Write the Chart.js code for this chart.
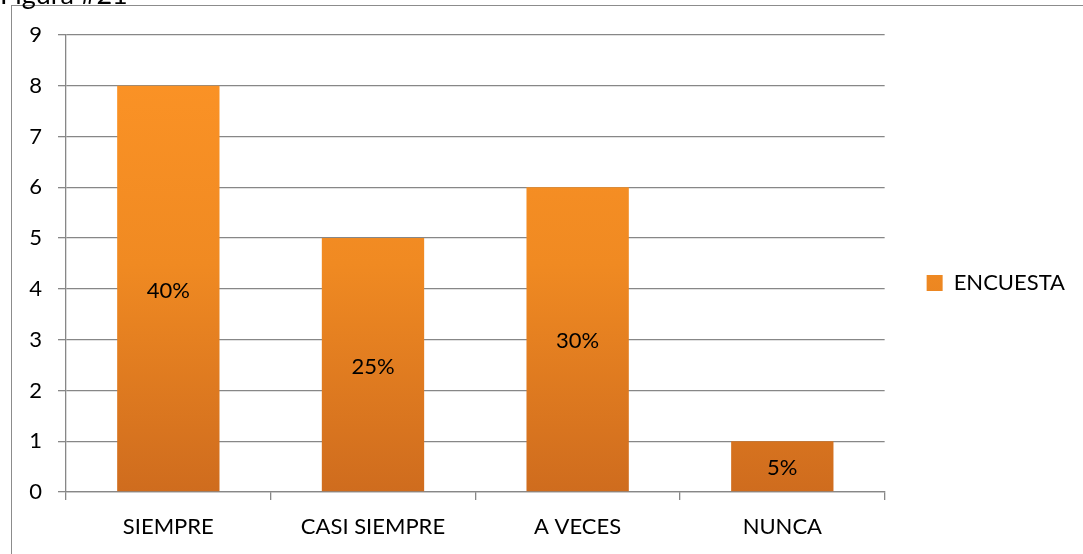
<!DOCTYPE html>
<html>
<head>
<meta charset="utf-8">
<script src="https://cdn.jsdelivr.net/npm/chart.js@4/dist/chart.umd.min.js"></script>
<style>
  html, body { margin: 0; padding: 0; background: #fff; overflow: hidden; }
  #wrap { position: relative; width: 1083px; height: 554px; }
  #frame { position: absolute; left: 11px; top: 5px; width: 1090px; height: 600px; border: 1.5px solid #8c8c8c; box-sizing: border-box; }
  canvas { position: absolute; left: 0; top: 0; }
</style>
</head>
<body>
<div id="wrap">
  <div id="frame"></div>
  <canvas id="barChart" width="1083" height="554"></canvas>
</div>
<script>
var labels = ['SIEMPRE', 'CASI SIEMPRE', 'A VECES', 'NUNCA'];
var encuesta = [8, 5, 6, 1];
var porcentajes = ['40%', '25%', '30%', '5%'];
var fontName = 'Lato, "Open Sans", sans-serif';

// etiquetas dentro de las barras
var barLabels = {
    id: 'barLabels',
    afterDatasetsDraw: function(chart) {
        var ctx = chart.ctx;
        var meta = chart.getDatasetMeta(0);
        ctx.save();
        ctx.fillStyle = '#000';
        ctx.font = '22px ' + fontName;
        ctx.textAlign = 'center';
        ctx.textBaseline = 'middle';
        meta.data.forEach(function(bar, i) {
            var p = bar.getProps(['x', 'y', 'base'], true);
            ctx.fillText(porcentajes[i], p.x, (p.y + p.base) / 2 + 2);
        });
        ctx.restore();
    }
};

function barGradient(context) {
    var chart = context.chart;
    var area = chart.chartArea;
    if (!area) return '#f7901e';
    var g = chart.ctx.createLinearGradient(0, area.top, 0, area.bottom);
    g.addColorStop(0, '#fd9426');
    g.addColorStop(0.5, '#f08a22');
    g.addColorStop(1, '#cf6c1e');
    return g;
}

var ctxBar = document.getElementById('barChart').getContext('2d');
var barChart = new Chart(ctxBar, {
    type: 'bar',
    data: {
        labels: labels,
        datasets: [{
            label: 'ENCUESTA',
            data: encuesta,
            backgroundColor: barGradient,
            borderWidth: 0,
            categoryPercentage: 1,
            barPercentage: 0.5
        }]
    },
    plugins: [barLabels],
    options: {
        responsive: false,
        animation: false,
        layout: { padding: { top: 12, bottom: 0, left: 0, right: 8 } },
        plugins: {
            tooltip: { enabled: false },
            title: {
                display: true,
                text: 'Figura #21',
                align: 'start',
                color: '#000',
                padding: { top: -33, bottom: 23.6 },
                font: { family: fontName, size: 27, weight: 'normal' }
            },
            legend: {
                position: 'right',
                labels: {
                    boxWidth: 16,
                    boxHeight: 16,
                    padding: 42,
                    color: '#000',
                    font: { family: fontName, size: 22 }
                }
            }
        },
        scales: {
            x: {
                afterFit: function(scale) { scale.height = 62; },
                grid: {
                    drawOnChartArea: false,
                    drawTicks: true,
                    tickLength: 8,
                    color: '#878787',
                    lineWidth: 1.3
                },
                border: { color: '#878787', width: 1.3 },
                ticks: {
                    padding: 14,
                    color: '#000',
                    font: { family: fontName, size: 22 }
                }
            },
            y: {
                min: 0,
                max: 9,
                afterFit: function(scale) { scale.width = 66; },
                grid: {
                    color: '#878787',
                    lineWidth: 1.3,
                    tickLength: 8
                },
                border: { color: '#878787', width: 1.3 },
                ticks: {
                    stepSize: 1,
                    padding: 16,
                    color: '#000',
                    font: { family: fontName, size: 22 }
                }
            }
        }
    }
});
</script>
</body>
</html>
